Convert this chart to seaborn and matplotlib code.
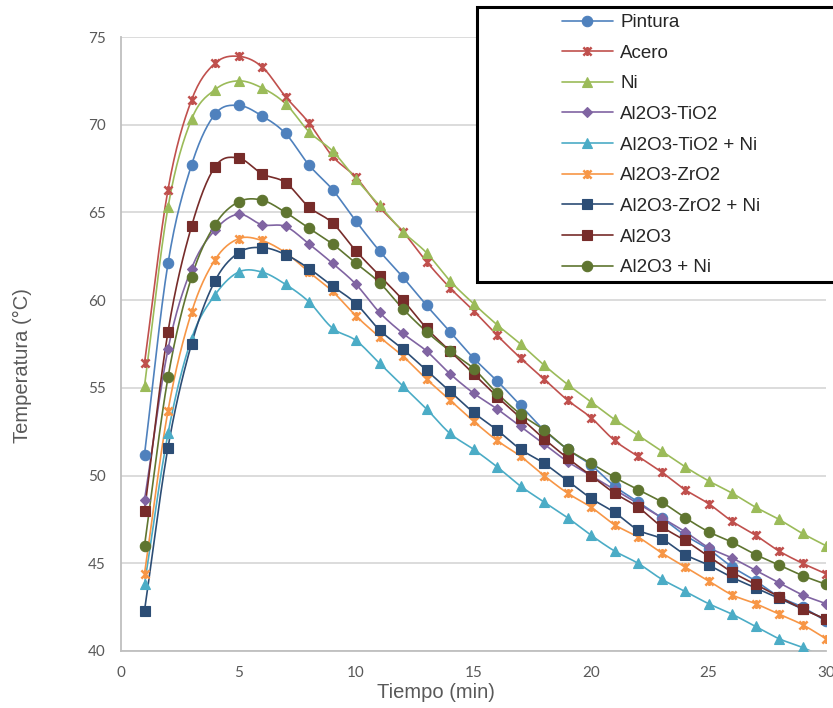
import numpy as np
import pandas as pd
import matplotlib
matplotlib.use("Agg")
import matplotlib.pyplot as plt
from matplotlib.lines import Line2D
from matplotlib.patches import Rectangle
from matplotlib.path import Path
import seaborn as sns

# ==========================================
# Data
# ==========================================
tiempo = list(range(1, 31))

pintura = [51.2, 62.1, 67.7, 70.6, 71.1, 70.5, 69.5, 67.7, 66.3, 64.5,
           62.8, 61.3, 59.7, 58.2, 56.7, 55.4, 54.0, 52.6, 51.5, 50.6,
           49.4, 48.5, 47.6, 46.6, 45.8, 44.8, 44.0, 43.1, 42.5, 41.7]
acero = [56.4, 66.3, 71.4, 73.5, 73.9, 73.3, 71.6, 70.1, 68.2, 67.0,
         65.3, 63.9, 62.2, 60.7, 59.4, 58.0, 56.7, 55.5, 54.3, 53.3,
         52.0, 51.1, 50.2, 49.2, 48.4, 47.4, 46.6, 45.7, 45.0, 44.4]
ni = [55.1, 65.3, 70.3, 72.0, 72.5, 72.1, 71.2, 69.6, 68.5, 66.9,
      65.4, 63.9, 62.7, 61.1, 59.8, 58.6, 57.5, 56.3, 55.2, 54.2,
      53.2, 52.3, 51.4, 50.5, 49.7, 49.0, 48.2, 47.5, 46.7, 46.0]
al2o3_tio2 = [48.6, 57.2, 61.8, 64.0, 64.9, 64.3, 64.2, 63.2, 62.1, 60.9,
              59.3, 58.1, 57.1, 55.8, 54.7, 53.8, 52.8, 51.8, 50.8, 50.0,
              49.2, 48.4, 47.6, 46.8, 45.9, 45.3, 44.6, 43.9, 43.2, 42.7]
al2o3_tio2_ni = [43.8, 52.4, 57.8, 60.3, 61.6, 61.6, 60.9, 59.9, 58.4, 57.7,
                 56.4, 55.1, 53.8, 52.4, 51.5, 50.5, 49.4, 48.5, 47.6, 46.6,
                 45.7, 45.0, 44.1, 43.4, 42.7, 42.1, 41.4, 40.7, 40.2, 39.6]
al2o3_zro2 = [44.4, 53.7, 59.3, 62.3, 63.5, 63.4, 62.7, 61.6, 60.5, 59.1,
              57.9, 56.8, 55.5, 54.3, 53.1, 52.0, 51.1, 50.0, 49.0, 48.2,
              47.2, 46.5, 45.6, 44.8, 44.0, 43.2, 42.7, 42.1, 41.5, 40.7]
al2o3_zro2_ni = [42.3, 51.6, 57.5, 61.1, 62.7, 63.0, 62.6, 61.8, 60.8, 59.8,
                 58.3, 57.2, 56.0, 54.8, 53.6, 52.6, 51.5, 50.7, 49.7, 48.7,
                 47.9, 46.9, 46.4, 45.5, 44.9, 44.2, 43.6, 43.0, 42.4, 41.8]
al2o3 = [48.0, 58.2, 64.2, 67.6, 68.1, 67.2, 66.7, 65.3, 64.4, 62.8,
         61.4, 60.0, 58.4, 57.1, 55.8, 54.5, 53.3, 52.1, 51.0, 50.0,
         49.0, 48.2, 47.1, 46.3, 45.4, 44.5, 43.8, 43.1, 42.4, 41.8]
al2o3_ni = [46.0, 55.6, 61.3, 64.3, 65.6, 65.7, 65.0, 64.1, 63.2, 62.1,
            61.0, 59.5, 58.2, 57.1, 56.1, 54.7, 53.5, 52.6, 51.5, 50.7,
            49.9, 49.2, 48.5, 47.6, 46.8, 46.2, 45.5, 44.9, 44.3, 43.8]

series_names = ["Pintura", "Acero", "Ni", "Al2O3-TiO2", "Al2O3-TiO2 + Ni",
                "Al2O3-ZrO2", "Al2O3-ZrO2 + Ni", "Al2O3", "Al2O3 + Ni"]
series_values = [pintura, acero, ni, al2o3_tio2, al2o3_tio2_ni,
                 al2o3_zro2, al2o3_zro2_ni, al2o3, al2o3_ni]

# ==========================================
# Styles (Excel 2007 palette)
# ==========================================
star = Path([(-1, -1), (1, 1), (-1, 1), (1, -1), (0, -1.1), (0, 1.1)],
            [Path.MOVETO, Path.LINETO, Path.MOVETO, Path.LINETO, Path.MOVETO, Path.LINETO])

colors = ["#4F81BD", "#C0504D", "#9BBB59", "#8064A2", "#4BACC6",
          "#F79646", "#2C4D75", "#772C2A", "#5F7530"]
markers = ["o", star, "^", "D", "^", star, "s", "s", "o"]
msizes = [7.5, 6.5, 7.5, 5.5, 7.5, 6.5, 7.0, 7.0, 7.5]


def smooth(x, y, n=16):
    # Catmull-Rom style smoothing, like Excel's "smoothed line"
    x = np.asarray(x, float)
    y = np.asarray(y, float)
    px = np.concatenate([[2 * x[0] - x[1]], x, [2 * x[-1] - x[-2]]])
    py = np.concatenate([[2 * y[0] - y[1]], y, [2 * y[-1] - y[-2]]])
    t = np.linspace(0, 1, n, endpoint=False)
    xs, ys = [], []
    for i in range(1, len(px) - 2):
        for p, out in ((px, xs), (py, ys)):
            p0, p1, p2, p3 = p[i - 1], p[i], p[i + 1], p[i + 2]
            b1 = p1 + (p2 - p0) / 6
            b2 = p2 - (p3 - p1) / 6
            out.extend((1 - t) ** 3 * p1 + 3 * (1 - t) ** 2 * t * b1
                       + 3 * (1 - t) * t ** 2 * b2 + t ** 3 * p2)
    xs.append(x[-1])
    ys.append(y[-1])
    return np.array(xs), np.array(ys)


# ==========================================
# Plot
# ==========================================
sns.set_theme(style="white")
plt.rcParams['font.family'] = ['Liberation Sans', 'DejaVu Sans']

fig = plt.figure(figsize=(8.33, 7.08), dpi=100)
ax = fig.add_axes([121 / 833, 57 / 708, 705 / 833, 614 / 708])

for name, vals, c, m, ms in zip(series_names, series_values, colors, markers, msizes):
    xs, ys = smooth(tiempo, vals)
    sns.lineplot(x=xs, y=ys, sort=False, estimator=None, color=c, lw=1.2, ax=ax, zorder=2)
    filled = m is not star
    ax.plot(tiempo, vals, ls="none", marker=m, ms=ms, color=c,
            mec=c, mew=1.8 if not filled else 0.8, zorder=3)

ax.set_xlim(0, 30)
ax.set_ylim(40, 75)
ax.set_xticks(range(0, 31, 5))
ax.set_yticks(range(40, 76, 5))
ax.grid(axis="y", color="#D9D9D9", lw=1.3)
ax.grid(axis="x", visible=False)
for s in ["top", "right"]:
    ax.spines[s].set_visible(False)
for s in ["left", "bottom"]:
    ax.spines[s].set_color("#BFBFBF")
    ax.spines[s].set_linewidth(1.3)
ax.tick_params(length=0, pad=11, labelsize=11, labelcolor="#595959")
for lab in ax.get_xticklabels() + ax.get_yticklabels():
    lab.set_family(["Lato", "DejaVu Sans"])
ax.set_xlabel("")
ax.set_ylabel("")

fig.text(436 / 833, 1 - 693 / 708, "Tiempo (min)", ha="center", va="center",
         fontsize=14.5, color="#595959")
fig.text(22 / 833, 1 - 366 / 708, "Temperatura (°C)", ha="center", va="center",
         rotation=90, fontsize=14.5, color="#595959")

# legend box
box = Rectangle((477 / 833, 1 - 282 / 708), 360 / 833, 275 / 708, transform=fig.transFigure,
                facecolor="white", edgecolor="black", lw=2.2, zorder=10, clip_on=False)
ax.add_patch(box)
handles = [Line2D([0], [0], color=c, lw=1.2, marker=m, ms=ms, mec=c,
                  mew=1.8 if m is star else 0.8)
           for c, m, ms in zip(colors, markers, msizes)]
leg = ax.legend(handles, series_names, loc="upper left",
                bbox_to_anchor=(562 / 833, 1 - 14 / 708), bbox_transform=fig.transFigure,
                frameon=False, fontsize=13.5, handlelength=2.7, handletextpad=0.4,
                labelspacing=0.72, borderpad=0, borderaxespad=0)
leg.set_zorder(11)

fig.savefig("out.png", dpi=100)
